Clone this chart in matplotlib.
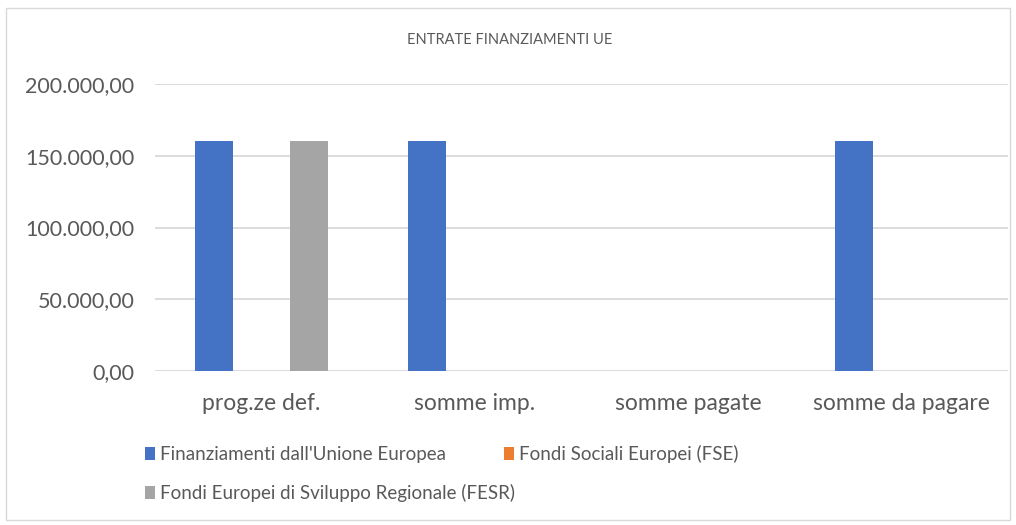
#!/usr/bin/env python3
import numpy as np
import matplotlib
matplotlib.use("Agg")
import matplotlib.pyplot as plt
from matplotlib.patches import Rectangle

categories = ["prog.ze def.", "somme imp.", "somme pagate", "somme da pagare"]
series_names = ["Finanziamenti dall'Unione Europea",
                "Fondi Sociali Europei (FSE)",
                "Fondi Europei di Sviluppo Regionale (FESR)"]
ue_values = [160000, 160000, 0, 160000]
fse_values = [0, 0, 0, 0]
fesr_values = [160000, 0, 0, 0]
colors = ["#4472C4", "#ED7D31", "#A5A5A5"]
yticks = [0, 50000, 100000, 150000, 200000]


def it_fmt(v):
    s = f"{v:,.2f}"
    return s.replace(",", "X").replace(".", ",").replace("X", ".")


def main():
    plt.rcParams["font.family"] = ["Lato", "DejaVu Sans"]
    fig = plt.figure(figsize=(10.16, 5.25), dpi=100)
    fig.patches.append(Rectangle((0.006, 0.01), 0.988, 0.975, transform=fig.transFigure,
                                 fill=False, edgecolor="#d9d9d9", linewidth=1))
    ax = fig.add_axes([155 / 1016, 1 - 371 / 525, (1008 - 155) / 1016, (371 - 84) / 525])

    x = np.arange(len(categories))
    slot = 0.223
    handles = []
    for i, (vals, name, c) in enumerate(zip([ue_values, fse_values, fesr_values], series_names, colors)):
        h = ax.bar(x + (i - 1) * slot, vals, width=slot * 0.8, color=c, label=name, zorder=3)
        handles.append(h)

    ax.set_xlim(-0.5, len(categories) - 0.5)
    ax.set_ylim(0, 200000)
    ax.set_yticks(yticks)
    ax.set_yticklabels([it_fmt(v) for v in yticks])
    ax.set_xticks(x)
    ax.set_xticklabels(categories)
    ax.tick_params(length=0, colors="#595959")
    ax.tick_params(axis="x", pad=16, labelsize=16.5)
    ax.tick_params(axis="y", pad=15, labelsize=15.5)
    ax.grid(axis="y", color="#d9d9d9", linewidth=1.3, zorder=0)
    for s in ax.spines.values():
        s.set_visible(False)

    fig.text(510 / 1016, 1 - 40 / 525, "ENTRATE FINANZIAMENTI UE", ha="center", va="center",
             fontsize=10.5, color="#595959")

    # first row: UE + FSE, second row: FESR (fig.legend keeps both legends)
    leg_kw = dict(loc="upper left", frameon=False, fontsize=13.5, labelcolor="#595959",
                  handlelength=0.55, handleheight=0.7, handletextpad=0.25)
    fig.legend(handles=handles[:2], labels=series_names[:2], ncol=2,
               bbox_to_anchor=(128 / 1016, 1 - 428 / 525), columnspacing=3.1, **leg_kw)
    fig.legend(handles=handles[2:], labels=series_names[2:],
               bbox_to_anchor=(128 / 1016, 1 - 467 / 525), **leg_kw)

    fig.savefig("out.png", dpi=100)


if __name__ == "__main__":
    main()
